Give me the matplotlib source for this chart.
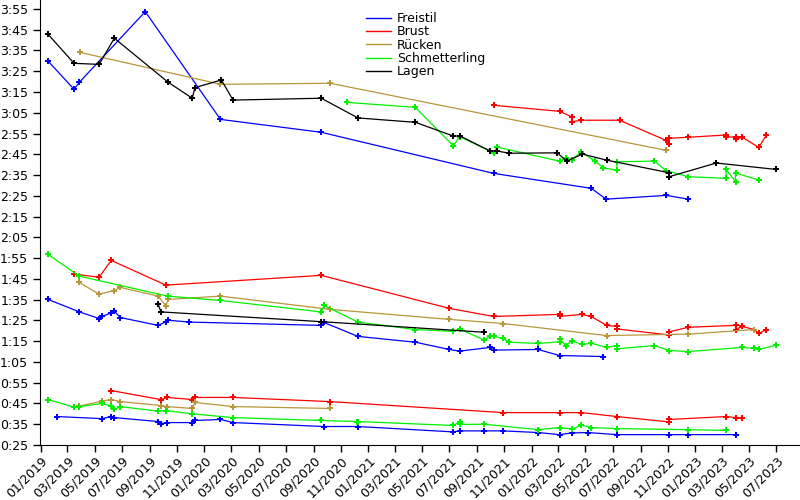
"""Swim times per stroke and distance over time."""

import matplotlib

matplotlib.use("Agg")
import matplotlib.dates as mdates
import matplotlib.pyplot as plt
import pandas as pd
from matplotlib.lines import Line2D
from matplotlib.ticker import FixedLocator, FuncFormatter

# (date, time in seconds) per stroke and distance
FREISTIL_200 = [
    ("2019-01-17", 209.9), ("2019-03-16", 196.3), ("2019-03-28", 199.7),
    ("2019-08-22", 233.7), ("2020-02-06", 181.8), ("2020-09-18", 175.6),
    ("2021-10-08", 155.8), ("2022-05-14", 148.6), ("2022-06-16", 143.4),
    ("2022-10-28", 145.2), ("2022-12-17", 143.4),
]
FREISTIL_100 = [
    ("2019-01-17", 95.1), ("2019-03-28", 89.1), ("2019-05-11", 85.9),
    ("2019-05-18", 87.0), ("2019-06-07", 88.6), ("2019-06-14", 89.5),
    ("2019-06-27", 86.4), ("2019-09-20", 82.6), ("2019-10-07", 84.3),
    ("2019-10-12", 85.1), ("2019-11-28", 84.2), ("2020-09-18", 82.6),
    ("2020-09-24", 84.0), ("2020-12-09", 77.3), ("2021-04-16", 74.5),
    ("2021-07-01", 71.0), ("2021-07-24", 70.2), ("2021-09-30", 72.0),
    ("2021-10-08", 70.7), ("2022-01-15", 71.0), ("2022-03-04", 68.1),
    ("2022-06-10", 67.6),
]
FREISTIL_50 = [
    ("2019-02-06", 38.7), ("2019-05-18", 37.7), ("2019-06-07", 38.7),
    ("2019-06-14", 38.2), ("2019-09-20", 36.3), ("2019-09-26", 35.3),
    ("2019-10-10", 35.8), ("2019-12-05", 35.8), ("2019-12-11", 36.8),
    ("2020-02-06", 37.3), ("2020-03-05", 35.8), ("2020-09-24", 33.9),
    ("2020-12-09", 33.9), ("2021-07-10", 31.3), ("2021-07-24", 31.8),
    ("2021-09-17", 31.8), ("2021-10-29", 31.8), ("2022-01-15", 31.0),
    ("2022-03-04", 30.0), ("2022-04-01", 30.8), ("2022-05-06", 31.0),
    ("2022-07-10", 30.0), ("2022-11-04", 30.0), ("2022-12-17", 30.0),
    ("2023-04-01", 30.0),
]

BRUST_200 = [
    ("2021-10-08", 188.6), ("2022-03-04", 185.7), ("2022-04-01", 183.0),
    ("2022-04-01", 180.7), ("2022-04-22", 181.4), ("2022-07-16", 181.4),
    ("2022-10-28", 171.7), ("2022-11-04", 169.8), ("2022-11-04", 172.7),
    ("2022-12-17", 173.2), ("2023-03-11", 174.3), ("2023-03-11", 173.5),
    ("2023-04-01", 173.2), ("2023-04-01", 172.2), ("2023-04-16", 173.2),
    ("2023-05-23", 168.3), ("2023-06-09", 174.3),
]
BRUST_100 = [
    ("2019-03-16", 107.3), ("2019-05-11", 105.8), ("2019-06-07", 113.9),
    ("2019-10-07", 102.0), ("2020-09-18", 106.7), ("2021-07-01", 90.8),
    ("2021-10-08", 86.9), ("2022-03-04", 87.9), ("2022-03-04", 86.9),
    ("2022-04-23", 87.9), ("2022-05-14", 86.9), ("2022-06-17", 82.6),
    ("2022-07-10", 82.1), ("2022-07-10", 80.9), ("2022-11-04", 78.0),
    ("2022-11-04", 79.5), ("2022-12-17", 81.7), ("2023-04-01", 82.6),
    ("2023-04-01", 80.6), ("2023-04-16", 82.1), ("2023-05-13", 80.6),
    ("2023-05-23", 78.7), ("2023-06-09", 80.6),
]
BRUST_50 = [
    ("2019-06-07", 51.2), ("2019-09-26", 46.9), ("2019-10-10", 47.9),
    ("2019-12-05", 46.9), ("2019-12-11", 47.9), ("2020-03-05", 47.9),
    ("2020-10-08", 45.9), ("2021-10-29", 40.6), ("2022-03-04", 40.6),
    ("2022-04-22", 40.6), ("2022-07-10", 38.7), ("2022-11-04", 36.1),
    ("2022-11-04", 37.3), ("2023-03-11", 38.7), ("2023-04-01", 38.2),
    ("2023-04-16", 38.2),
]

RUECKEN_200 = [
    ("2019-03-29", 214.1), ("2020-02-06", 198.7), ("2020-10-08", 199.2),
    ("2022-10-28", 166.9),
]
RUECKEN_100 = [
    ("2019-03-28", 103.3), ("2019-05-11", 97.6), ("2019-06-14", 99.4),
    ("2019-06-27", 100.9), ("2019-09-20", 96.7), ("2019-10-07", 92.0),
    ("2019-10-12", 95.1), ("2020-02-06", 96.7), ("2020-10-08", 90.3),
    ("2021-07-01", 85.5), ("2021-10-29", 83.5), ("2022-06-17", 77.7),
    ("2022-12-17", 78.4), ("2023-05-13", 80.6),
]
RUECKEN_50 = [
    ("2019-03-28", 43.7), ("2019-05-18", 46.2), ("2019-06-07", 46.9),
    ("2019-06-27", 45.9), ("2019-09-26", 44.0), ("2019-10-10", 43.5),
    ("2019-12-05", 42.6), ("2019-12-11", 45.5), ("2020-03-05", 43.5),
    ("2020-10-08", 42.6),
]

SCHMETTERLING_200 = [
    ("2020-11-14", 190.0), ("2021-04-16", 187.6), ("2021-07-10", 169.1),
    ("2021-07-24", 173.5), ("2021-10-08", 165.7), ("2021-10-15", 168.5),
    ("2022-03-04", 161.7), ("2022-03-18", 163.0), ("2022-04-01", 162.4),
    ("2022-04-22", 166.1), ("2022-05-22", 161.7), ("2022-06-10", 158.5),
    ("2022-07-10", 157.3), ("2022-07-10", 161.4), ("2022-10-02", 161.7),
    ("2022-10-28", 157.1), ("2022-12-17", 154.2), ("2023-03-11", 153.4),
    ("2023-03-11", 157.7), ("2023-04-01", 151.8), ("2023-04-01", 156.0),
    ("2023-05-23", 152.6),
]
SCHMETTERLING_100 = [
    ("2019-01-17", 116.8), ("2019-03-28", 106.3), ("2019-10-11", 96.7),
    ("2020-02-06", 94.6), ("2020-09-18", 89.1), ("2020-09-24", 92.2),
    ("2020-12-09", 84.2), ("2021-04-16", 80.6), ("2021-07-10", 79.7),
    ("2021-07-24", 80.9), ("2021-09-17", 75.5), ("2021-09-30", 77.4),
    ("2021-10-08", 77.4), ("2021-10-29", 76.3), ("2021-11-12", 74.5),
    ("2022-01-15", 73.9), ("2022-03-04", 74.7), ("2022-03-04", 76.0),
    ("2022-03-18", 72.9), ("2022-04-01", 75.1), ("2022-04-23", 73.4),
    ("2022-05-14", 74.0), ("2022-06-17", 72.0), ("2022-07-10", 72.9),
    ("2022-07-10", 71.3), ("2022-10-02", 72.9), ("2022-11-04", 70.5),
    ("2022-12-17", 70.0), ("2023-04-16", 72.0), ("2023-05-13", 71.5),
    ("2023-05-23", 71.0), ("2023-07-01", 73.1),
]
SCHMETTERLING_50 = [
    ("2019-01-17", 46.9), ("2019-03-16", 43.2), ("2019-03-28", 43.5),
    ("2019-05-18", 45.0), ("2019-06-07", 43.7), ("2019-06-14", 42.1),
    ("2019-06-27", 43.5), ("2019-09-20", 41.3), ("2019-10-07", 41.6),
    ("2019-12-05", 40.0), ("2020-03-05", 38.2), ("2020-09-18", 36.8),
    ("2020-12-07", 36.3), ("2020-12-09", 36.3), ("2021-07-10", 34.4),
    ("2021-07-24", 36.3), ("2021-07-24", 34.9), ("2021-09-17", 35.0),
    ("2022-01-15", 32.4), ("2022-03-04", 33.4), ("2022-04-01", 32.7),
    ("2022-04-22", 34.5), ("2022-05-14", 33.4), ("2022-07-10", 32.9),
    ("2022-12-17", 32.4), ("2023-03-11", 32.0),
]

LAGEN_200 = [
    ("2019-01-17", 222.8), ("2019-03-16", 208.8), ("2019-05-11", 208.3),
    ("2019-06-14", 220.9), ("2019-10-12", 199.7), ("2019-12-05", 192.0),
    ("2019-12-11", 197.1), ("2020-02-08", 200.8), ("2020-03-05", 191.1),
    ("2020-09-18", 192.0), ("2020-12-09", 182.5), ("2021-04-16", 180.4),
    ("2021-07-10", 173.8), ("2021-07-25", 173.8), ("2021-09-30", 166.6),
    ("2021-10-15", 166.6), ("2021-11-12", 165.5), ("2022-02-27", 165.7),
    ("2022-03-20", 161.7), ("2022-04-24", 165.1), ("2022-06-17", 162.2),
    ("2022-11-04", 156.1), ("2022-11-04", 154.2), ("2023-02-17", 160.8),
    ("2023-07-01", 157.7),
]
LAGEN_100 = [
    ("2019-09-20", 92.7), ("2019-09-26", 89.1), ("2020-09-18", 84.4),
    ("2021-09-17", 79.3),
]

STROKES = ["Freistil", "Brust", "Rücken", "Schmetterling", "Lagen"]
COLORS = ["#0000ff", "#ff0000", "#b8963a", "#00f000", "#000000"]
SERIES = [
    [FREISTIL_200, FREISTIL_100, FREISTIL_50],
    [BRUST_200, BRUST_100, BRUST_50],
    [RUECKEN_200, RUECKEN_100, RUECKEN_50],
    [SCHMETTERLING_200, SCHMETTERLING_100, SCHMETTERLING_50],
    [LAGEN_200, LAGEN_100],
]
Y_TICKS = list(range(25, 240, 10))


def format_time(value, _pos=None):
    seconds = int(round(value))
    return f"{seconds // 60}:{seconds % 60:02d}"


fig = plt.figure(figsize=(8, 5), dpi=100)
ax = fig.add_axes([0.05, 0.11, 0.95, 0.89])

for color, group in zip(COLORS, SERIES):
    for points in group:
        dates = pd.to_datetime([d for d, _ in points])
        times = [t for _, t in points]
        ax.plot(dates, times, color=color, lw=0.9, marker="P", ms=5, mew=0)

ax.set_xlim(pd.Timestamp("2018-12-30"), pd.Timestamp("2023-08-23"))
ax.set_ylim(25, 239.3)

ax.xaxis.set_major_locator(mdates.MonthLocator(bymonth=[1, 3, 5, 7, 9, 11]))
ax.xaxis.set_major_formatter(mdates.DateFormatter("%m/%Y"))
ax.yaxis.set_major_locator(FixedLocator(Y_TICKS))
ax.yaxis.set_major_formatter(FuncFormatter(format_time))

ax.tick_params(axis="both", direction="out", length=5, width=1, labelsize=9)
ax.tick_params(axis="x", pad=1.5)
plt.setp(ax.get_xticklabels(), rotation=45, ha="right", rotation_mode="anchor")

for side in ("top", "right"):
    ax.spines[side].set_visible(False)

handles = [Line2D([], [], color=c, lw=1) for c in COLORS]
ax.legend(
    handles,
    STROKES,
    loc="upper left",
    bbox_to_anchor=(0.443, 1.0),
    bbox_transform=fig.transFigure,
    frameon=False,
    fontsize=9,
    handlelength=2.0,
    handletextpad=0.45,
    labelspacing=0.03,
    borderpad=0.45,
)

fig.savefig("out.png", dpi=100)
plt.close(fig)
